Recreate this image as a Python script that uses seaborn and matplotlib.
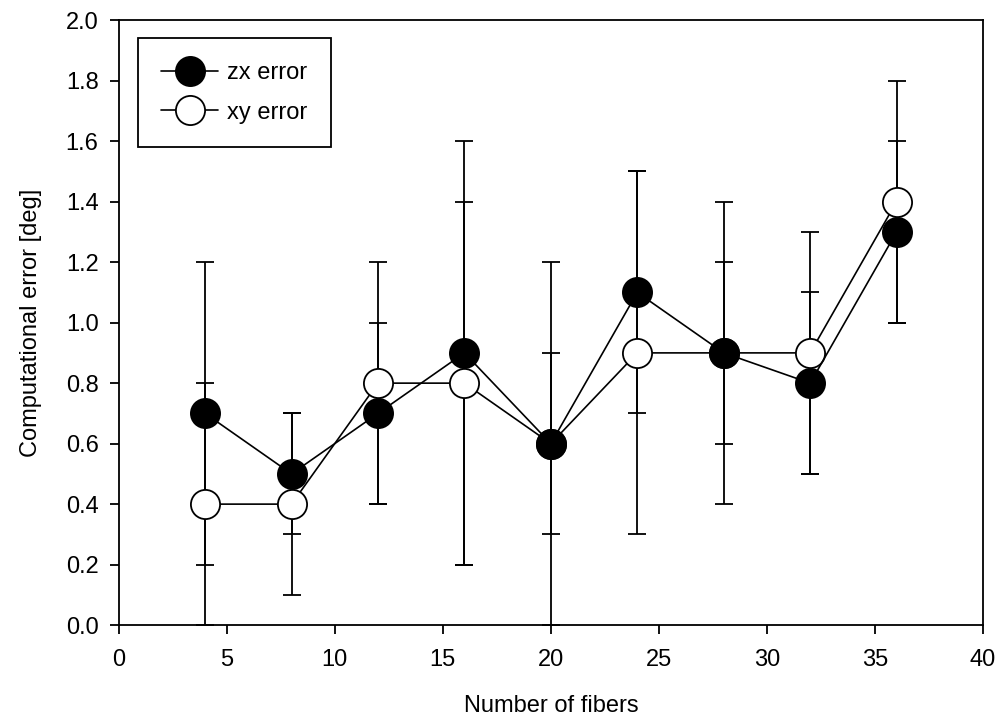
"""
Computational error vs number of fibers
"""

import numpy as np
import pandas as pd
import matplotlib
matplotlib.use("Agg")
import matplotlib.pyplot as plt
import seaborn as sns

# data
fibers = [4, 8, 12, 16, 20, 24, 28, 32, 36]
zx_error = [0.7, 0.5, 0.7, 0.9, 0.6, 1.1, 0.9, 0.8, 1.3]
zx_sd = [0.5, 0.2, 0.3, 0.7, 0.3, 0.4, 0.3, 0.3, 0.3]
xy_error = [0.4, 0.4, 0.8, 0.8, 0.6, 0.9, 0.9, 0.9, 1.4]
xy_sd = [0.4, 0.3, 0.4, 0.6, 0.6, 0.6, 0.5, 0.4, 0.4]

df = pd.DataFrame({
    "fibers": fibers * 2,
    "error": xy_error + zx_error,
    "sd": xy_sd + zx_sd,
    "series": ["xy error"] * len(fibers) + ["zx error"] * len(fibers),
})

sns.set_style("ticks")
plt.rcParams["font.family"] = ["Liberation Sans", "DejaVu Sans"]
plt.rcParams["text.color"] = "black"
plt.rcParams["axes.labelcolor"] = "black"

fig = plt.figure(figsize=(9.97, 7.21), dpi=100)
ax = fig.add_axes([0.119, 0.133, 0.867, 0.839])

styles = {
    "xy error": dict(mfc="white", zorder=3),
    "zx error": dict(mfc="black", zorder=4),
}

handles = {}
for name, sub in df.groupby("series", sort=False):
    st = styles[name]
    ax.errorbar(sub["fibers"], sub["error"], yerr=sub["sd"], fmt="none",
                ecolor="black", elinewidth=1.3, capsize=6.5, capthick=1.3,
                zorder=2)
    sns.lineplot(data=sub, x="fibers", y="error", ax=ax, color="black",
                 lw=1.2, marker="o", markersize=21, markerfacecolor=st["mfc"],
                 markeredgecolor="black", markeredgewidth=1.3,
                 zorder=st["zorder"], label=name, legend=False)
    handles[name] = ax.lines[-1]

ax.set_xlim(0, 40)
ax.set_ylim(0, 2.0)
ax.set_xticks(np.arange(0, 41, 5))
ax.set_yticks(np.arange(0, 2.01, 0.2))
ax.set_yticklabels([f"{v:.1f}" for v in np.arange(0, 2.01, 0.2)])
ax.tick_params(direction="out", length=6.5, width=1.3, labelsize=17,
               colors="black")
ax.tick_params(axis="x", pad=11)
ax.tick_params(axis="y", pad=8)
for s in ax.spines.values():
    s.set_linewidth(1.3)
    s.set_color("black")

ax.set_xlabel("Number of fibers", fontsize=17, labelpad=17)
ax.set_ylabel("Computational error [deg]", fontsize=17, labelpad=17)

leg = ax.legend([handles["zx error"], handles["xy error"]], ["zx error", "xy error"],
                loc="upper left", bbox_to_anchor=(0.022, 0.970), borderaxespad=0,
                fontsize=17, frameon=True, fancybox=False, edgecolor="black",
                handlelength=2.4, handletextpad=0.4, borderpad=1.0,
                labelspacing=0.75, markerscale=1.0, framealpha=1)
leg.get_frame().set_linewidth(1.3)

fig.savefig("out.png", dpi=100)
